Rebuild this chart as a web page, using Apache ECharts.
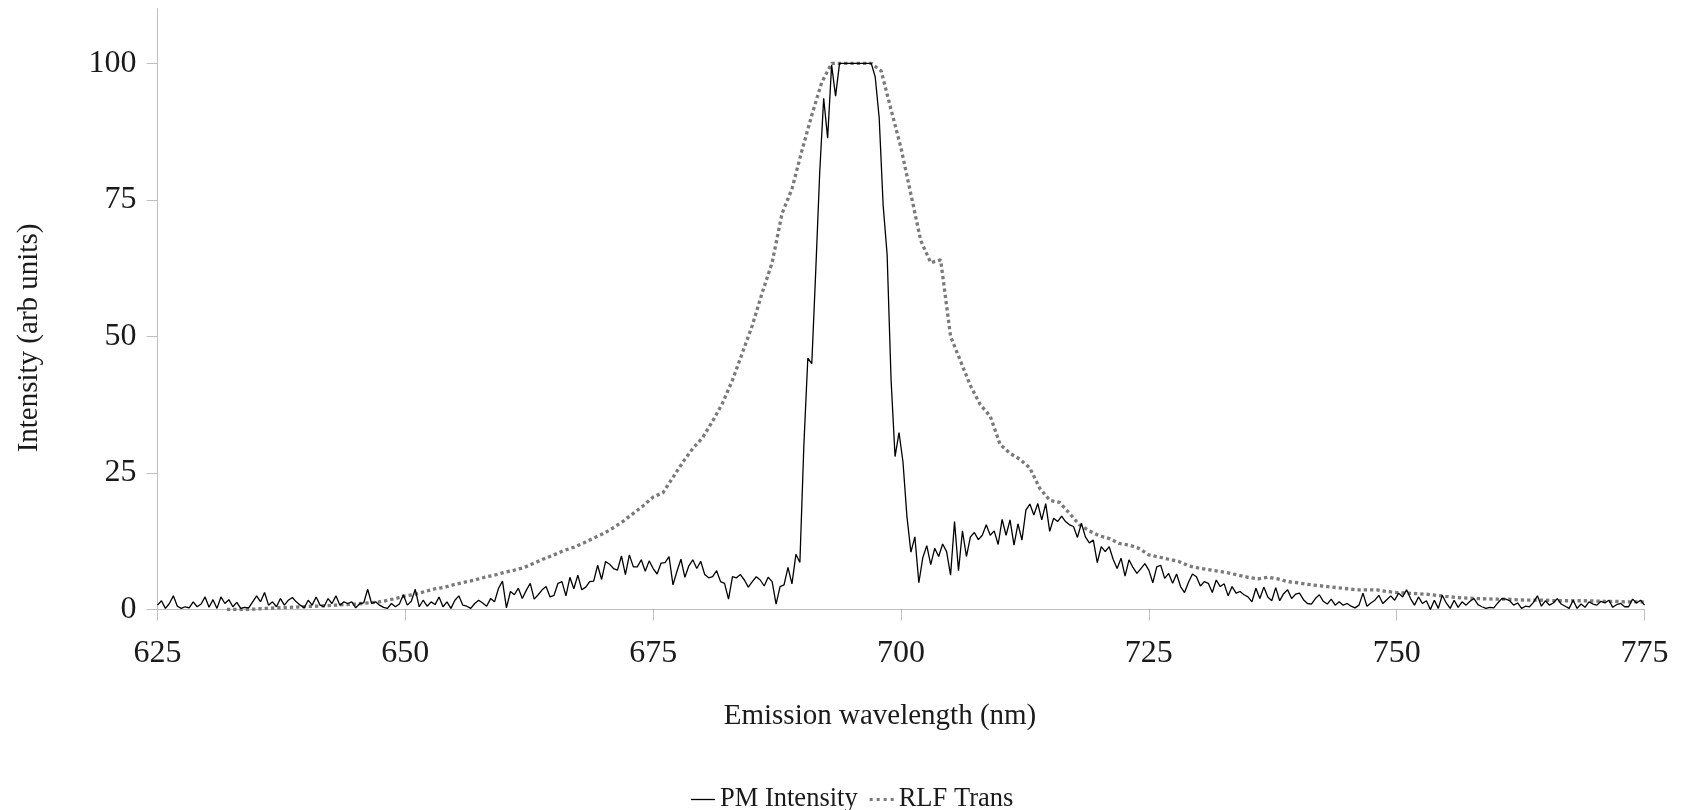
<!DOCTYPE html>
<html>
<head>
<meta charset="utf-8">
<script src="https://cdn.jsdelivr.net/npm/echarts@6/dist/echarts.min.js"></script>
<style>
html,body{margin:0;padding:0;background:#fff;}
#chart{width:1683px;height:810px;}
</style>
</head>
<body>
<div id="chart"></div>
<script>
// ---- data ----
const seriesNames = ['PM Intensity', 'RLF Trans'];
const pmStart = 625;      // nm, first PM sample
const pmStep = 0.4;       // nm between PM samples
const pmIntensity = [
0.8,1.6,0.2,1.1,2.5,0.6,0.2,0.5,0.3,1.4,
0.5,1.0,2.3,0.4,1.8,0.2,2.3,1.1,1.8,0.5,
1.3,0.2,0.4,0.3,1.4,2.5,1.4,3.1,0.8,1.4,
0.5,2.0,0.8,1.7,2.2,1.4,0.8,0.3,1.7,0.8,
2.3,0.8,0.5,2.0,1.1,2.5,0.8,1.4,1.1,1.4,
0.3,1.1,1.2,3.7,1.1,1.4,0.8,0.4,0.2,1.1,
0.5,1.0,2.7,0.8,1.5,3.7,0.5,1.7,0.6,1.4,
0.9,2.3,0.5,1.4,0.2,1.7,2.5,0.8,0.6,0.2,
1.1,1.7,1.2,0.6,2.0,1.4,3.9,5.2,0.3,3.3,
2.7,3.9,2.0,3.5,4.8,1.9,2.7,3.6,4.2,2.3,
2.6,4.8,5.1,2.5,5.9,3.8,6.3,3.6,4.1,5.1,
5.2,8.1,5.5,8.8,8.3,7.5,7.2,9.8,6.4,10.0,
7.8,7.8,9.1,7.0,8.9,7.5,6.5,8.5,8.6,9.7,
4.5,7.0,9.2,5.9,8.0,9.1,7.5,8.8,6.4,5.8,
6.0,7.1,5.1,4.8,1.9,6.0,5.8,6.4,5.4,4.1,
5.1,6.0,5.4,4.3,5.9,5.1,1.0,4.2,4.5,7.7,
4.7,10.1,8.6,30,46,45,62,80,93.6,86.3,
99.7,94,100,100,100,100,100,100,100,100,
100,97.5,90,74,65,42,28,32.4,27,17,
10.5,13.3,4.9,9.5,11.7,8.2,11.2,9.7,12.0,10.6,
6.3,16.1,7.1,14.4,9.7,13.3,14.1,12.8,13.6,15.5,
13.6,14.4,11.9,16.5,13.6,16.4,11.8,15.7,12.7,18.2,
19.3,17.3,19.4,16.4,19.4,14.3,16.7,16.1,17.1,16.1,
15.5,15.2,13.2,15.8,13.3,12.2,12.7,8.6,11.5,10.6,
11.5,9.2,7.5,9.4,6.1,9.1,7.7,6.6,7.5,8.4,
7.2,4.9,7.8,8.1,5.7,6.6,4.8,6.5,4.2,3.1,
5.0,6.5,6.0,4.3,5.1,4.8,3.1,5.4,4.2,4.7,
2.5,4.2,3.0,3.3,2.7,2.3,1.4,3.9,2.0,4.1,
2.3,1.6,4.0,1.6,2.9,3.6,2.0,2.8,3.0,1.8,
1.1,1.0,2.0,2.7,1.5,1.0,1.9,0.8,1.4,0.8,
1.1,0.6,0.3,0.8,3.0,0.6,1.2,1.7,2.6,1.1,
1.8,2.5,1.7,3.0,2.3,3.6,2.0,0.8,2.3,1.1,
1.6,0.0,1.7,0.2,2.6,1.2,0.2,1.7,0.4,1.4,
0.8,1.5,2.0,0.9,0.5,0.2,0.4,0.3,1.2,2.0,
1.9,1.6,0.8,1.2,0.2,0.6,0.5,1.3,2.5,0.6,
1.6,0.8,1.2,2.0,1.0,0.6,0.2,1.7,0.2,1.0,
0.4,1.4,1.0,0.8,1.5,1.2,1.7,0.4,0.9,1.1,
0.5,0.5,1.9,1.2,1.7,0.8
];
const rlfStart = 632;     // nm, first RLF sample
const rlfStep = 1;        // nm between RLF samples
const rlfTrans = [
0,0,0,0.1,0.2,0.3,0.35,0.45,0.55,0.6,
0.7,0.8,0.9,1.0,1.15,1.3,1.6,2.0,2.5,2.8,
3.3,3.8,4.1,4.6,5.0,5.4,5.9,6.3,6.8,7.2,
7.7,8.5,9.3,10.0,10.8,11.4,12.2,13.1,13.9,15.0,
16.2,17.6,19.0,20.6,21.4,24.2,27.0,29.5,31.5,34.5,
37.8,42,47,52,58,63.5,72.5,77,84,90.5,
96.5,100,100,100,100,100,98.6,91.5,84.5,76,
67.5,63.5,64,50,45.5,41,37.5,35.4,30.2,28.6,
27.5,25.9,22.2,20.0,19.6,17.6,15.5,14.4,13.5,13.0,
12.1,11.8,11.2,10.0,9.6,9.2,8.8,8.0,7.6,7.3,
7.0,6.7,6.3,5.9,5.6,5.9,5.6,5.1,4.9,4.6,
4.4,4.2,4.0,3.8,3.6,3.6,3.6,3.3,3.1,3.0,
2.9,2.8,2.6,2.4,2.2,2.1,2.0,1.95,1.9,1.9,
1.8,1.7,1.7,1.7,1.6,1.6,1.6,1.6,1.55,1.5,
1.5,1.4,1.4,1.4
];
const xTicks = [625, 650, 675, 700, 725, 750, 775];
const yTicks = [0, 25, 50, 75, 100];
const xTitle = 'Emission wavelength (nm)';
const yTitle = 'Intensity (arb units)';

// ---- build ----
const pmData = pmIntensity.map((v, i) => [+(pmStart + i * pmStep).toFixed(2), v]);
const rlfData = rlfTrans.map((v, i) => [rlfStart + i * rlfStep, v]);

const FONT = '"Liberation Serif", "Times New Roman", serif';
const TXT = '#1a1a1a';
const AXIS = '#bfbfbf';
const PM_COLOR = '#000000';
const RLF_COLOR = '#7a7a7a';

const chart = echarts.init(document.getElementById('chart'), null, {renderer: 'canvas'});
chart.setOption({
  animation: false,
  backgroundColor: '#ffffff',
  grid: {left: 157.5, right: 38.5, top: 8.7, bottom: 200.5},
  xAxis: {
    type: 'value', min: xTicks[0], max: xTicks[xTicks.length - 1], interval: 25,
    axisLine: {show: true, lineStyle: {color: AXIS, width: 1}},
    axisTick: {show: true, length: 11, lineStyle: {color: AXIS}},
    axisLabel: {color: TXT, fontFamily: FONT, fontSize: 32, margin: 28},
    splitLine: {show: false}
  },
  yAxis: {
    type: 'value', min: 0, max: 110,
    axisLine: {show: true, lineStyle: {color: AXIS, width: 1}},
    axisTick: {show: true, length: 11, lineStyle: {color: AXIS}, customValues: yTicks},
    axisLabel: {color: TXT, fontFamily: FONT, fontSize: 32, margin: 21, padding: [5, 0, 0, 0], customValues: yTicks},
    splitLine: {show: false}
  },
  legend: {
    data: [
      {name: seriesNames[0], icon: 'path://M0,0h24v1.3h-24z', itemStyle: {color: PM_COLOR}},
      {name: seriesNames[1], icon: 'path://M0,0h3v3h-3zM7,0h3v3h-3zM14,0h3v3h-3zM21,0h3v3h-3z', itemStyle: {color: RLF_COLOR}}
    ],
    left: 686, top: 781,
    itemWidth: 24, itemHeight: 14, itemGap: 12,
    textStyle: {color: TXT, fontFamily: FONT, fontSize: 26.5}
  },
  graphic: [
    {type: 'text', x: 880, y: 716,
     style: {text: xTitle, font: '29px ' + FONT, fill: TXT, align: 'center', verticalAlign: 'middle'}},
    {type: 'text', x: 29, y: 338, rotation: Math.PI / 2,
     style: {text: yTitle, font: '29px ' + FONT, fill: TXT, align: 'center', verticalAlign: 'middle'}}
  ],
  series: [
    {
      name: seriesNames[0], type: 'line', data: pmData,
      symbol: 'none', lineStyle: {color: PM_COLOR, width: 1.3}, itemStyle: {color: PM_COLOR}, z: 3
    },
    {
      name: seriesNames[1], type: 'line', data: rlfData,
      symbol: 'none', lineStyle: {color: RLF_COLOR, width: 3.3, type: [3.3, 3]}, itemStyle: {color: RLF_COLOR}, z: 2
    }
  ]
});
</script>
</body>
</html>
